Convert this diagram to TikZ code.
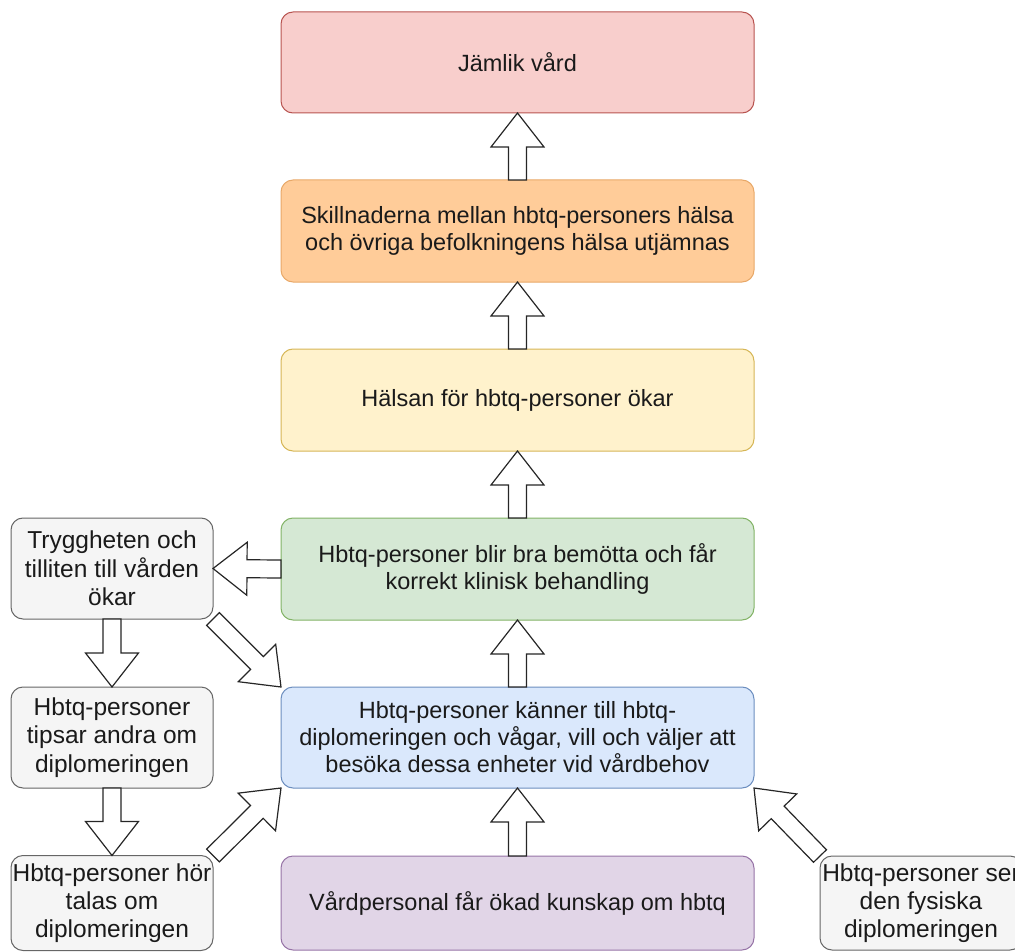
\documentclass[tikz,border=0pt]{standalone}
\usepackage{fontspec}
\setmainfont{Liberation Sans}
\usetikzlibrary{calc}
\definecolor{redF}{HTML}{F8CECC}\definecolor{redD}{HTML}{B85450}
\definecolor{oraF}{HTML}{FFCC99}\definecolor{oraD}{HTML}{E8A868}
\definecolor{yelF}{HTML}{FFF2CC}\definecolor{yelD}{HTML}{D6B656}
\definecolor{grnF}{HTML}{D5E8D4}\definecolor{grnD}{HTML}{82B366}
\definecolor{bluF}{HTML}{DAE8FC}\definecolor{bluD}{HTML}{6C8EBF}
\definecolor{purF}{HTML}{E1D5E7}\definecolor{purD}{HTML}{9673A6}
\definecolor{gryF}{HTML}{F5F5F5}\definecolor{gryD}{HTML}{666666}
\definecolor{txt}{HTML}{1A1A1A}
\tikzset{
  box/.style={rectangle, rounded corners=12pt, line width=1pt, inner sep=0pt, outer sep=0pt,
    align=center, text=txt, font=\fontsize{23.5}{27}\selectfont},
  mainbox/.style={box, minimum width=473pt, minimum height=101pt},
  sidebox/.style={box, minimum width=202pt, minimum height=101pt, fill=gryF, draw=gryD,
    font=\fontsize{24.5}{28.3}\selectfont},
  barrow/.style={draw=black!85, fill=white, line width=1.2pt, line join=miter},
}
\newcommand{\flexarrow}[2]{%
  \draw[barrow] ($(#1)!9pt!90:(#2)$)
    -- ($(#2)!34pt!(#1)!9pt!90:(#2)$)
    -- ($(#2)!34pt!(#1)!26.5pt!90:(#2)$)
    -- (#2)
    -- ($(#2)!34pt!(#1)!26.5pt!-90:(#2)$)
    -- ($(#2)!34pt!(#1)!9pt!-90:(#2)$)
    -- ($(#1)!9pt!-90:(#2)$) -- cycle;}
\begin{document}
\begin{tikzpicture}[x=1pt,y=-1pt]
\useasboundingbox (0,0) rectangle (1015,952);
\clip (0,0) rectangle (1015,952);
\node[mainbox, fill=redF, draw=redD] (jam) at (517.5,62.5) {Jämlik vård};
\node[mainbox, fill=oraF, draw=oraD, minimum height=102pt] (skill) at (517.5,231)
  {Skillnaderna mellan hbtq-personers hälsa\\och övriga befolkningens hälsa utjämnas};
\node[mainbox, fill=yelF, draw=yelD, minimum height=102pt] (halsa) at (517.5,400)
  {Hälsan för hbtq-personer ökar};
\node[mainbox, fill=grnF, draw=grnD, minimum height=102pt] (green) at (517.5,569)
  {Hbtq-personer blir bra bemötta och får\\korrekt klinisk behandling};
\node[mainbox, fill=bluF, draw=bluD] (blue) at (517.5,737.5)
  {Hbtq-personer känner till hbtq-\\diplomeringen och vågar, vill och väljer att\\besöka dessa enheter vid vårdbehov};
\node[mainbox, fill=purF, draw=purD, minimum height=94pt] (purple) at (517.5,903)
  {Vårdpersonal får ökad kunskap om hbtq};
\node[sidebox] (tryg) at (112,568.5) {Tryggheten och\\tilliten till vården\\ökar};
\node[sidebox] (tips) at (112,737.5) {Hbtq-personer\\tipsar andra om\\diplomeringen};
\node[sidebox, minimum height=95pt] (hor) at (112,903) {Hbtq-personer hör\\talas om\\diplomeringen};
\node[sidebox, minimum height=94pt] (ser) at (921,903) {Hbtq-personer ser\\den fysiska\\diplomeringen};
\flexarrow{skill.north}{jam.south}
\flexarrow{halsa.north}{skill.south}
\flexarrow{green.north}{halsa.south}
\flexarrow{blue.north}{green.south}
\flexarrow{purple.north}{blue.south}
\flexarrow{green.west}{tryg.east}
\flexarrow{tryg.south}{tips.north}
\flexarrow{tips.south}{hor.north}
\flexarrow{tryg.south east}{blue.north west}
\flexarrow{hor.north east}{blue.south west}
\flexarrow{ser.north west}{blue.south east}
\end{tikzpicture}
\end{document}
